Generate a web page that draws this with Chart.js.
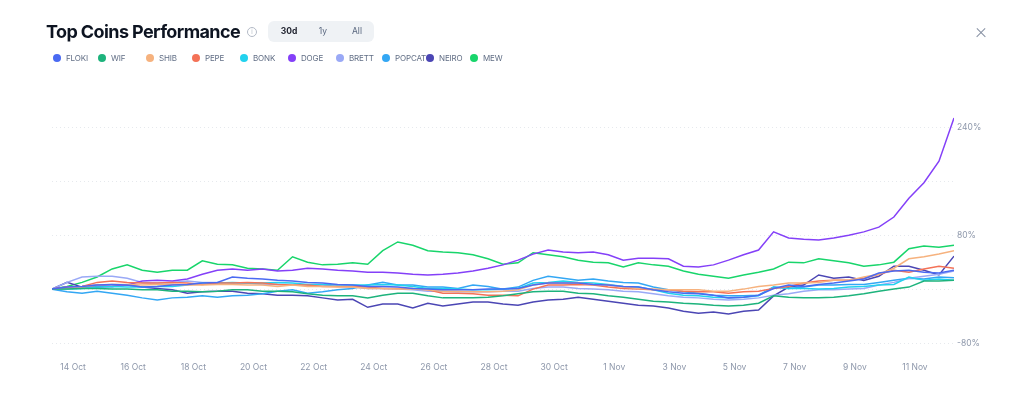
<!DOCTYPE html>
<html>
<head>
<meta charset="utf-8">
<script src="https://cdn.jsdelivr.net/npm/chart.js@4.4.1/dist/chart.umd.min.js"></script>
<style>
body{margin:0;background:#fff;font-family:Inter,"Noto Sans",sans-serif;}
#wrap{position:relative;width:1024px;height:402px;overflow:hidden;}
#chart{position:absolute;left:0;top:0;}
.title{position:absolute;left:46px;top:23px;font-size:18px;line-height:18px;font-weight:700;color:#0d1421;letter-spacing:-0.6px;white-space:nowrap;}
.info{position:absolute;left:247px;top:27px;width:8px;height:8px;border:1px solid #b3bac6;border-radius:50%;font-size:6px;line-height:8px;text-align:center;color:#b3bac6;}
.tabs{position:absolute;left:268px;top:21px;width:106px;height:21px;background:#eff2f5;border-radius:6px;}
.tabs span{position:absolute;top:0;line-height:21px;font-size:8.5px;color:#58667e;transform:translateX(-50%);}
.tabs span.on{color:#222531;font-weight:700;}
.close{position:absolute;left:975px;top:27px;width:11px;height:11px;}
.close:before,.close:after{content:"";position:absolute;left:0;top:5px;width:12px;height:1.3px;background:#858fa2;}
.close:before{transform:rotate(45deg);}
.close:after{transform:rotate(-45deg);}
.leg{position:absolute;top:53px;height:10px;display:flex;align-items:center;font-size:8px;letter-spacing:-0.15px;color:#616e85;white-space:nowrap;}
.leg i{display:inline-block;width:8px;height:8px;border-radius:50%;margin-right:5px;}
</style>
</head>
<body>
<div id="wrap">
  <canvas id="chart" width="1024" height="402"></canvas>
  <div class="title">Top Coins Performance</div>
  <div class="info">i</div>
  <div class="tabs"><span class="on" style="left:21px">30d</span><span style="left:55px">1y</span><span style="left:89px">All</span></div>
  <div class="close"></div>
  <div id="legend"></div>
</div>
<script>
var names = ["FLOKI","WIF","SHIB","PEPE","BONK","DOGE","BRETT","POPCAT","NEIRO","MEW"];
var colors = ["#4a6af2","#1db37c","#f6b27e","#f47257","#22d2ee","#8440f8","#9aa9f6","#33a7f4","#4b46b4","#18d56b"];
var legendX = [53,98,146,192,240,288,336,382,426,470];

// day offsets from 14 Oct 00:00
var days = [-0.7,-0.2,0.3,0.8,1.3,1.8,2.3,2.8,3.3,3.8,
  4.3,4.8,5.3,5.8,6.3,6.8,7.3,7.8,8.3,8.8,
  9.3,9.8,10.3,10.8,11.3,11.8,12.3,12.8,13.3,13.8,
  14.3,14.8,15.3,15.8,16.3,16.8,17.3,17.8,18.3,18.8,
  19.3,19.8,20.3,20.8,21.3,21.8,22.3,22.8,23.3,23.8,
  24.3,24.8,25.3,25.8,26.3,26.8,27.3,27.8,28.3,28.8,
  29.3];
var tickDays = [0,2,4,6,8,10,12,14,16,18,20,22,24,26,28];
var tickLabels = ["14 Oct","16 Oct","18 Oct","20 Oct","22 Oct","24 Oct","26 Oct","28 Oct","30 Oct","1 Nov","3 Nov","5 Nov","7 Nov","9 Nov","11 Nov"];
var yTicks = [-80,0,80,160,240];

var floki = [0,3,4,6,7,6,3,4,6,7, 9,10,18,16,15,13,12,10,9,7, 6,4,4,3,1,0,-1,-1,-1,0, 0,1,6,9,9,9,7,6,4,3, -1,-4,-6,-7,-9,-13,-12,-9,1,6, 4,7,9,12,15,24,27,28,25,24, 28];
var wif = [0,0,1,1,0,0,-1,-1,-3,-3, -4,-3,-1,-1,-3,-3,-4,-7,-9,-10, -10,-13,-9,-6,-6,-10,-13,-13,-13,-12, -10,-7,-4,-3,-3,-6,-7,-10,-12,-15, -18,-19,-21,-22,-24,-25,-24,-21,-10,-12, -13,-13,-12,-10,-7,-3,0,3,12,12, 13];
var shib = [0,1,3,6,7,7,6,7,7,6, 6,7,7,6,6,4,6,4,4,3, 3,1,1,0,0,-1,-3,-3,-4,-4, -3,-1,6,9,9,9,7,6,3,1, 0,-1,-1,-1,-3,-3,0,4,6,9, 9,10,13,13,18,22,31,45,48,52, 57];
var pepe = [0,3,4,10,12,10,9,9,10,9, 7,9,9,10,9,7,6,6,4,4, 4,3,1,1,1,-1,-6,-6,-7,-9, -9,-10,0,6,6,7,6,3,1,0, -1,-1,-3,-4,-4,-6,-4,-3,1,4, 9,12,13,13,16,22,28,25,30,34, 31];
var bonk = [0,0,1,3,4,3,3,4,4,6, 9,9,10,9,9,10,9,7,7,6, 6,6,7,6,4,1,1,0,-1,-1, 0,1,9,10,12,10,9,7,4,3, -1,-6,-9,-10,-12,-13,-12,-10,3,1, 1,0,1,3,4,6,7,18,13,15, 13];
var doge = [0,3,4,6,4,6,12,13,12,15, 22,28,30,28,30,27,28,31,30,28, 27,25,25,24,22,21,22,24,27,31, 36,43,52,58,55,54,55,51,43,46, 46,45,34,33,36,43,51,58,85,76, 74,73,76,80,85,92,107,135,158,190, 254];
var brett = [0,10,18,19,19,16,10,9,10,12, 10,10,9,9,7,7,7,6,6,4, 3,1,1,0,-1,-3,-3,-4,-4,-4, -3,-3,1,3,3,1,0,-1,-3,-4, -7,-10,-12,-13,-15,-16,-15,-13,-9,-7, -3,-1,-1,0,1,6,10,16,19,22, 27];
var popcat = [0,-4,-6,-3,-6,-9,-13,-16,-13,-12, -10,-12,-10,-9,-7,-3,-1,-6,-4,-1, 1,6,10,6,6,3,3,1,6,4, 0,3,13,19,16,13,15,12,10,9, 3,-1,-4,-6,-9,-10,-10,-9,3,1, 3,6,6,7,7,10,13,16,15,18, 17];
var neiro = [0,10,3,3,4,6,3,1,-1,-6, -4,-3,-3,-6,-7,-9,-9,-10,-13,-16, -15,-27,-22,-22,-28,-21,-25,-22,-19,-19, -22,-24,-19,-16,-15,-12,-15,-18,-21,-24, -25,-28,-33,-36,-34,-37,-33,-31,-10,3, 6,21,16,18,13,19,34,34,28,21, 49];
var mew = [0,4,10,18,30,36,28,25,28,28, 42,37,36,31,30,28,48,40,36,37, 39,37,57,70,65,57,55,54,51,45, 37,39,54,51,48,43,40,39,33,39, 36,34,27,22,19,16,21,25,30,40, 39,45,42,39,34,36,40,60,64,62, 65];

var series = [floki,wif,shib,pepe,bonk,doge,brett,popcat,neiro,mew];

// legend
var legend = document.getElementById("legend");
for (var i = 0; i < names.length; i++) {
  var d = document.createElement("div");
  d.className = "leg";
  d.style.left = legendX[i] + "px";
  d.innerHTML = '<i style="background:' + colors[i] + '"></i>' + names[i];
  legend.appendChild(d);
}

var datasets = series.map(function(s, i){
  return {
    label: names[i],
    data: days.map(function(dy, k){ return {x: dy, y: s[k]}; }),
    borderColor: colors[i],
    backgroundColor: colors[i],
    borderWidth: 1.5,
    pointRadius: 0,
    tension: 0,
    fill: false
  };
});

var ctx = document.getElementById("chart").getContext("2d");
new Chart(ctx, {
  type: "line",
  data: {datasets: datasets},
  options: {
    responsive: false,
    animation: false,
    layout: {padding: {left: 52, top: 114, right: 0, bottom: 0}},
    plugins: {legend: {display: false}, tooltip: {enabled: false}},
    scales: {
      x: {
        type: "linear", min: -0.7, max: 29.3,
        grid: {display: false},
        border: {display: false},
        afterBuildTicks: function(a){ a.ticks = tickDays.map(function(v){ return {value: v}; }); },
        afterFit: function(a){ a.height = 59; },
        ticks: {
          autoSkip: false, maxRotation: 0, padding: 11,
          color: "#8d97aa", font: {size: 8.5, family: "Inter"},
          callback: function(v){ return tickLabels[tickDays.indexOf(v)]; }
        }
      },
      y: {
        position: "right", min: -80, max: 260,
        afterBuildTicks: function(a){ a.ticks = yTicks.map(function(v){ return {value: v}; }); },
        afterFit: function(a){ a.width = 70; },
        grid: {color: "#e6e9ed", drawTicks: false, lineWidth: 1},
        border: {display: false, dash: [1, 3]},
        ticks: {
          padding: 3, color: "#8d97aa", font: {size: 8.5, family: "Inter"},
          callback: function(v){ return Math.abs(v % 160) === 80 ? v + "%" : ""; }
        }
      }
    }
  }
});
</script>
</body>
</html>
